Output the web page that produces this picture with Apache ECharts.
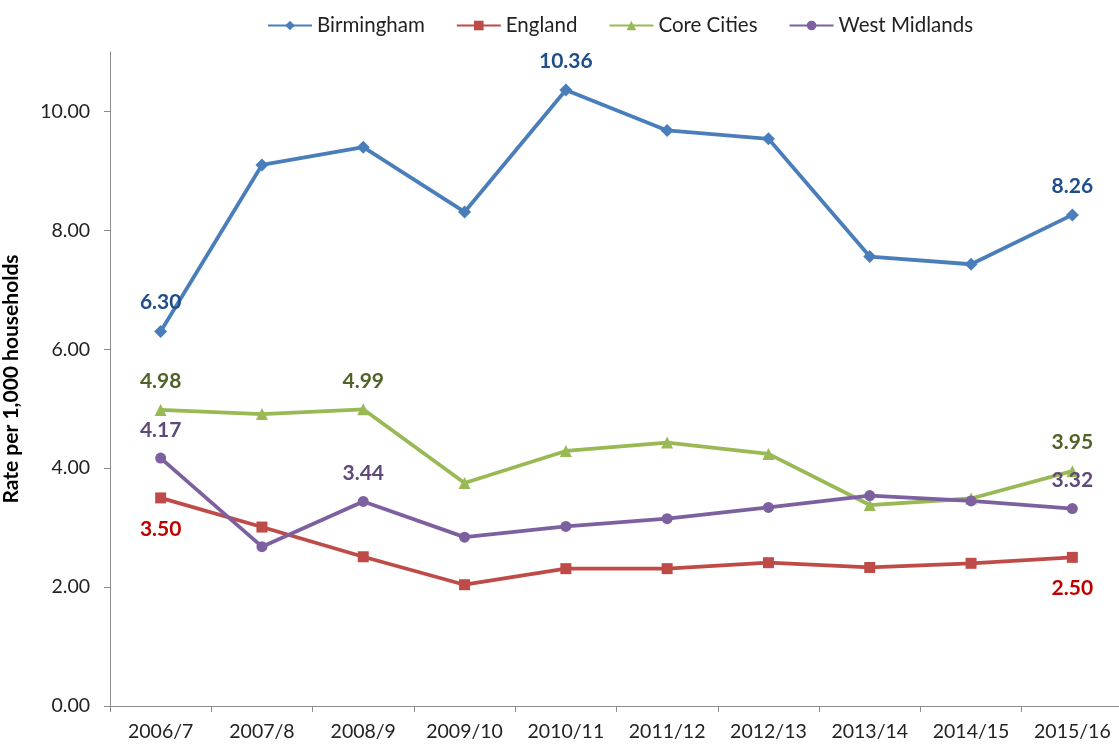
<!DOCTYPE html>
<html>
<head>
<meta charset="utf-8">
<script src="https://cdn.jsdelivr.net/npm/echarts@6/dist/echarts.min.js"></script>
<style>
html,body{margin:0;padding:0;background:#fff;}
#c{width:1119px;height:747px;}
</style>
</head>
<body>
<div id="c"></div>
<script>
const categories = ['2006/7','2007/8','2008/9','2009/10','2010/11','2011/12','2012/13','2013/14','2014/15','2015/16'];
const birmingham = [6.30, 9.10, 9.40, 8.31, 10.36, 9.68, 9.54, 7.56, 7.43, 8.26];
const england = [3.50, 3.01, 2.51, 2.04, 2.31, 2.31, 2.41, 2.33, 2.40, 2.50];
const coreCities = [4.98, 4.91, 4.99, 3.75, 4.29, 4.43, 4.24, 3.38, 3.49, 3.95];
const westMidlands = [4.17, 2.68, 3.44, 2.84, 3.02, 3.15, 3.34, 3.54, 3.45, 3.32];
const yTicks = [0, 2, 4, 6, 8, 10];
const labelled = {
  Birmingham: [0, 4, 9],
  England: [0, 9],
  'Core Cities': [0, 2, 9],
  'West Midlands': [0, 2, 9]
};

const FONT = 'Lato';
function mk(name, data, color, labelColor, symbol, size, pos, dist) {
  const idx = labelled[name];
  return {
    name: name,
    type: 'line',
    data: data.map((v, i) => ({
      value: v,
      label: {
        show: idx.indexOf(i) >= 0,
        position: pos,
        distance: dist,
        formatter: (p) => p.value.toFixed(2),
        color: labelColor,
        fontFamily: FONT,
        fontWeight: 'bold',
        fontSize: 21
      }
    })),
    symbol: symbol,
    symbolSize: size,
    showAllSymbol: true,
    lineStyle: { color: color, width: 3.8 },
    itemStyle: { color: color },
    emphasis: { disabled: true },
    animation: false
  };
}

const chart = echarts.init(document.getElementById('c'), null, { renderer: 'canvas' });
chart.setOption({
  backgroundColor: '#ffffff',
  animation: false,
  legend: {
    top: 10,
    left: 262,
    itemWidth: 44,
    itemHeight: 12,
    itemGap: 31,
    textStyle: { fontFamily: FONT, fontSize: 20.5, color: '#222' },
    data: ['Birmingham', 'England', 'Core Cities', 'West Midlands']
  },
  grid: { left: 110, top: 52, width: 1013, height: 654, outerBoundsMode: 'none', containLabel: false },
  xAxis: {
    type: 'category',
    data: categories,
    boundaryGap: true,
    axisLine: { lineStyle: { color: '#8c8c8c', width: 1 } },
    axisTick: { show: true, length: 6, lineStyle: { color: '#8c8c8c' } },
    axisLabel: { fontFamily: FONT, fontSize: 19.5, color: '#222', margin: 16, interval: 0 }
  },
  yAxis: {
    type: 'value',
    min: 0,
    max: 11,
    interval: 2,
    name: 'Rate per 1,000 households',
    nameLocation: 'middle',
    nameGap: 88,
    nameTextStyle: { fontFamily: FONT, fontSize: 21, fontWeight: 'bold', color: '#000' },
    splitLine: { show: false },
    axisLine: { show: true, lineStyle: { color: '#8c8c8c', width: 1 } },
    axisTick: { show: true, length: 6, customValues: yTicks, lineStyle: { color: '#8c8c8c' } },
    axisLabel: {
      fontFamily: FONT, fontSize: 19.5, color: '#222', margin: 20,
      customValues: yTicks,
      formatter: (v) => v.toFixed(2)
    }
  },
  series: [
    mk('Birmingham', birmingham, '#4A7EBB', '#1F4E8C', 'diamond', 13, 'top', 12),
    mk('England', england, '#BE4B48', '#C00000', 'rect', 11, 'bottom', 15),
    mk('Core Cities', coreCities, '#98B954', '#4F6228', 'triangle', 12, 'top', 12),
    mk('West Midlands', westMidlands, '#7D60A0', '#5F497A', 'circle', 11, 'top', 12)
  ]
});
</script>
</body>
</html>
